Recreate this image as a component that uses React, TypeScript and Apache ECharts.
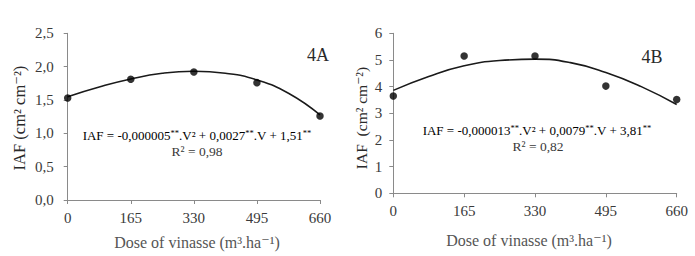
import React, { useEffect, useRef } from "react";
import * as echarts from "echarts";

const doses = [0, 165, 330, 495, 660];
const iafA = [1.53, 1.81, 1.92, 1.76, 1.26];
const iafB = [3.65, 5.15, 5.15, 4.02, 3.52];

const curveDoses = [0, 82.5, 165, 247.5, 330, 412.5, 495, 577.5, 660];
const curveA = [1.55, 1.695, 1.815, 1.9, 1.93, 1.9, 1.8, 1.6, 1.275];
const curveB = [3.86, 4.38, 4.78, 4.98, 5.03, 4.9, 4.53, 4.0, 3.33];

const xTicks = [0, 165, 330, 495, 660];
const eqA = ["IAF = -0,000005", "**", ".V² + 0,0027", "**", ".V + 1,51", "**"];
const eqB = ["IAF = -0,000013", "**", ".V² + 0,0079", "**", ".V + 3,81", "**"];
const r2A = "R² = 0,98";
const r2B = "R² = 0,82";

const SERIF = "'Liberation Serif', 'DejaVu Serif', serif";
const AXIS_COLOR = "#8a8a8a";
const TEXT_COLOR = "#3a3a3a";

function eqRich(parts: string[]) {
  return parts.map((p, i) => (i % 2 === 0 ? `{n|${p}}` : `{s|${p}}`)).join("");
}

export default function App() {
  const ref = useRef<HTMLDivElement>(null);
  useEffect(() => {
    if (!ref.current) return;
    const chart = echarts.init(ref.current, undefined, { renderer: "svg" });
    const pair = (xs: number[], ys: number[]) => xs.map((x, i) => [x, ys[i]]);
    const xAxisCommon = {
      type: "value" as const,
      min: 0,
      max: 660,
      interval: 165,
      axisLine: { show: true, lineStyle: { color: AXIS_COLOR, width: 1 } },
      axisTick: { show: true, length: 4, lineStyle: { color: AXIS_COLOR } },
      splitLine: { show: false },
      axisLabel: {
        color: TEXT_COLOR,
        fontFamily: SERIF,
        fontSize: 15,
        margin: 10,
        customValues: xTicks,
      },
    };
    const yAxisCommon = {
      type: "value" as const,
      axisLine: { show: true, lineStyle: { color: AXIS_COLOR, width: 1 } },
      axisTick: { show: true, length: 4, lineStyle: { color: AXIS_COLOR } },
      splitLine: { show: false },
    };
    const richStyles = {
      n: { fontFamily: SERIF, fontSize: 13, color: TEXT_COLOR },
      s: { fontFamily: SERIF, fontSize: 8.5, color: TEXT_COLOR, verticalAlign: "top" },
    };
    const option: any = {
      animation: false,
      backgroundColor: "#ffffff",
      grid: [
        { left: 67.7, top: 33.3, width: 252.3, height: 166.7 },
        { left: 393.3, top: 33.3, width: 283.4, height: 160 },
      ],
      xAxis: [
        { ...xAxisCommon, gridIndex: 0 },
        { ...xAxisCommon, gridIndex: 1 },
      ],
      yAxis: [
        {
          ...yAxisCommon,
          gridIndex: 0,
          min: 0,
          max: 2.5,
          interval: 0.5,
          axisLabel: {
            color: TEXT_COLOR,
            fontFamily: SERIF,
            fontSize: 15,
            margin: 14,
            formatter: (v: number) => v.toFixed(1).replace(".", ","),
          },
        },
        {
          ...yAxisCommon,
          gridIndex: 1,
          min: 0,
          max: 6,
          interval: 1,
          axisLabel: {
            color: TEXT_COLOR,
            fontFamily: SERIF,
            fontSize: 15,
            margin: 11,
          },
        },
      ],
      series: [
        {
          type: "line",
          xAxisIndex: 0,
          yAxisIndex: 0,
          data: pair(curveDoses, curveA),
          smooth: 0.5,
          showSymbol: false,
          lineStyle: { color: "#1a1a1a", width: 1.6 },
          z: 2,
        },
        {
          type: "scatter",
          xAxisIndex: 0,
          yAxisIndex: 0,
          data: pair(doses, iafA),
          symbolSize: 7.5,
          itemStyle: { color: "#000000" },
          z: 3,
        },
        {
          type: "line",
          xAxisIndex: 1,
          yAxisIndex: 1,
          data: pair(curveDoses, curveB),
          smooth: 0.5,
          showSymbol: false,
          lineStyle: { color: "#1a1a1a", width: 1.6 },
          z: 2,
        },
        {
          type: "scatter",
          xAxisIndex: 1,
          yAxisIndex: 1,
          data: pair(doses, iafB),
          symbolSize: 7.5,
          itemStyle: { color: "#000000" },
          z: 3,
        },
      ],
      graphic: [
        {
          type: "text",
          x: 19,
          y: 118,
          rotation: Math.PI / 2,
          style: {
            text: "IAF (cm² cm⁻²)",
            font: `16.5px ${SERIF}`,
            fill: "#2a2a2a",
            textAlign: "center",
            textVerticalAlign: "middle",
          },
        },
        {
          type: "text",
          x: 361,
          y: 118,
          rotation: Math.PI / 2,
          style: {
            text: "IAF  (cm² cm⁻²)",
            font: `15.5px ${SERIF}`,
            fill: "#2a2a2a",
            textAlign: "center",
            textVerticalAlign: "middle",
          },
        },
        {
          type: "text",
          x: 197,
          y: 242,
          style: {
            text: "Dose of vinasse (m³.ha⁻¹)",
            font: `16px ${SERIF}`,
            fill: "#555555",
            textAlign: "center",
            textVerticalAlign: "middle",
          },
        },
        {
          type: "text",
          x: 529,
          y: 240,
          style: {
            text: "Dose of vinasse (m³.ha⁻¹)",
            font: `16px ${SERIF}`,
            fill: "#555555",
            textAlign: "center",
            textVerticalAlign: "middle",
          },
        },
        {
          type: "text",
          x: 318,
          y: 55,
          style: {
            text: "4A",
            font: `18px ${SERIF}`,
            fill: "#2a2a2a",
            textAlign: "center",
            textVerticalAlign: "middle",
          },
        },
        {
          type: "text",
          x: 652,
          y: 57,
          style: {
            text: "4B",
            font: `18px ${SERIF}`,
            fill: "#2a2a2a",
            textAlign: "center",
            textVerticalAlign: "middle",
          },
        },
        {
          type: "text",
          x: 197,
          y: 135,
          style: {
            text: eqRich(eqA),
            rich: richStyles,
            textAlign: "center",
            textVerticalAlign: "middle",
          },
        },
        {
          type: "text",
          x: 197,
          y: 151,
          style: {
            text: r2A,
            font: `13.5px ${SERIF}`,
            fill: TEXT_COLOR,
            textAlign: "center",
            textVerticalAlign: "middle",
          },
        },
        {
          type: "text",
          x: 537,
          y: 130,
          style: {
            text: eqRich(eqB),
            rich: richStyles,
            textAlign: "center",
            textVerticalAlign: "middle",
          },
        },
        {
          type: "text",
          x: 538,
          y: 146,
          style: {
            text: r2B,
            font: `13.5px ${SERIF}`,
            fill: TEXT_COLOR,
            textAlign: "center",
            textVerticalAlign: "middle",
          },
        },
      ],
    };
    chart.setOption(option);
    return () => chart.dispose();
  }, []);
  return (
    <div
      ref={ref}
      style={{ position: "fixed", left: 0, top: 0, width: 695, height: 256, background: "#fff" }}
    />
  );
}
